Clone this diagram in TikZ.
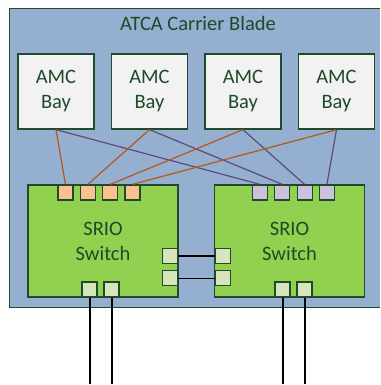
\documentclass[tikz,border=0pt]{standalone}
\usepackage{fontspec}
\setmainfont{Carlito}
\definecolor{carrierfill}{HTML}{94AFCF}
\definecolor{bordc}{HTML}{1F4B2C}
\definecolor{textc}{HTML}{1E4A2C}
\definecolor{amcfill}{HTML}{F2F2F2}
\definecolor{swfill}{HTML}{92D050}
\definecolor{ofill}{HTML}{FAC090}
\definecolor{pfill}{HTML}{CCC1DA}
\definecolor{gfill}{HTML}{D8E4BC}
\definecolor{olc}{HTML}{B4581C}
\definecolor{plc}{HTML}{5F4A7B}
\begin{document}
\begin{tikzpicture}[x=1pt,y=-1pt,
  txt/.style={font=\fontsize{20.5}{25}\selectfont, text=textc, align=center},
  box/.style={txt, draw=bordc, line width=1.3pt, inner sep=0pt},
  amc/.style={box, fill=amcfill, minimum width=76pt, minimum height=75pt},
  sw/.style={box, fill=swfill, minimum width=150pt, minimum height=112pt},
  port/.style={draw=bordc, line width=1.2pt, minimum size=15pt, inner sep=0pt},
  op/.style={port, fill=ofill},
  pp/.style={port, fill=pfill},
  gp/.style={port, fill=gfill},
  oline/.style={draw=olc, line width=1.2pt},
  pline/.style={draw=plc, line width=1.2pt},
  kline/.style={draw=black, line width=1.6pt},
  bline/.style={draw=black, line width=2pt}
]
\useasboundingbox (0,0) rectangle (380,385);
% carrier blade
\node[fill=carrierfill, minimum width=371pt, minimum height=298pt, inner sep=0pt, anchor=north west] (carrier) at (9,9) {};
\draw[draw=bordc, line width=1pt] (380,9) -- (9,9) -- (9,307) -- (380,307);
\node[txt, anchor=base] (title) at (198,31) {ATCA Carrier Blade};
% AMC bays
\node[amc] (a1) at (56,91.5) {AMC\\Bay};
\node[amc] (a2) at (149.5,91.5) {AMC\\Bay};
\node[amc] (a3) at (243,91.5) {AMC\\Bay};
\node[amc] (a4) at (336.5,91.5) {AMC\\Bay};
% switches
\node[sw] (s1) at (103,241) {SRIO\\Switch};
\node[sw] (s2) at (289.5,241) {SRIO\\Switch};
% top ports
\node[op] (o1) at (65.5,192.5) {};
\node[op] (o2) at (87.8,192.5) {};
\node[op] (o3) at (110.1,192.5) {};
\node[op] (o4) at (132.4,192.5) {};
\node[pp] (p1) at (260,192.5) {};
\node[pp] (p2) at (282.3,192.5) {};
\node[pp] (p3) at (304.6,192.5) {};
\node[pp] (p4) at (326.9,192.5) {};
% side ports
\node[gp] (l1) at (170.3,255.7) {};
\node[gp] (l2) at (170.3,278.3) {};
\node[gp] (r1) at (223,255.7) {};
\node[gp] (r2) at (223,278.3) {};
% bottom ports
\node[gp] (b1) at (89.5,289.5) {};
\node[gp] (b2) at (111.5,289.5) {};
\node[gp] (b3) at (282.5,289.5) {};
\node[gp] (b4) at (304.5,289.5) {};
% free ends
\coordinate (e1) at (89.5,384);
\coordinate (e2) at (111.5,384);
\coordinate (e3) at (282.5,384);
\coordinate (e4) at (304.5,384);
% AMC to switch links
\foreach \i in {1,2,3,4}{
  \draw[oline] (a\i.south) -- (o\i.north);
  \draw[pline] (a\i.south) -- (p\i.north);
}
% switch to switch
\draw[kline] (l1.east) -- (r1.west);
\draw[kline] (l2.east) -- (r2.west);
% downlinks
\draw[bline] (b1.south) -- (e1);
\draw[bline] (b2.south) -- (e2);
\draw[bline] (b3.south) -- (e3);
\draw[bline] (b4.south) -- (e4);
\end{tikzpicture}
\end{document}
